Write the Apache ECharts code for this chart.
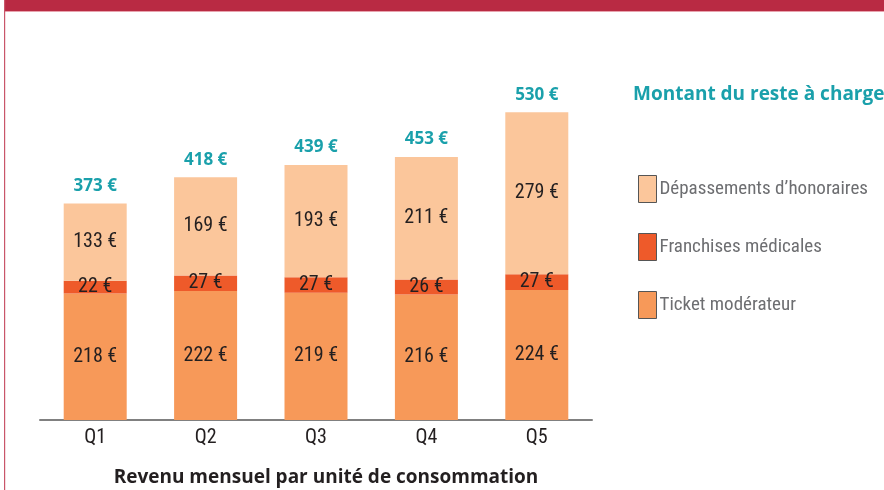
<!DOCTYPE html>
<html>
<head>
<meta charset="utf-8">
<script src="https://cdn.jsdelivr.net/npm/echarts@6/dist/echarts.min.js"></script>
<style>
html,body{margin:0;padding:0;background:#fff;}
#chart{width:884px;height:490px;}
</style>
</head>
<body>
<div id="chart"></div>
<script>
var categories = ['Q1', 'Q2', 'Q3', 'Q4', 'Q5'];
var ticket = [218, 222, 219, 216, 224];
var franchises = [22, 27, 27, 26, 27];
var depassements = [133, 169, 193, 211, 279];
var totals = [373, 418, 439, 453, 530];

var narrow = "'Roboto Condensed', 'DejaVu Sans Condensed', sans-serif";
var chart = echarts.init(document.getElementById('chart'));

function euro(p) { return p.value + ' €'; }

var segLabel = {
	show: true,
	position: 'inside',
	formatter: euro,
	color: '#231F20',
	fontFamily: narrow,
	fontSize: 20
};

var option = {
	animation: false,
	grid: { left: 40, width: 552, top: 71.6, height: 348.4, outerBoundsMode: 'none' },
	graphic: [
		{ type: 'rect', shape: { x: 4, y: 0, width: 880, height: 11 }, style: { fill: '#B92A43' } },
		{ type: 'rect', shape: { x: 4, y: 11, width: 880, height: 1 }, style: { fill: '#E8A3AE' } },
		{ type: 'rect', shape: { x: 4, y: 0, width: 1.2, height: 490 }, style: { fill: '#C9566A' } },
		{
			type: 'text', left: 633, top: 85,
			style: { text: 'Montant du reste à charge', fill: '#1AA0AB', font: "bold 19px 'Open Sans', sans-serif" }
		}
	],
	legend: {
		data: ['Dépassements d\u2019honoraires', 'Franchises médicales', 'Ticket modérateur'],
		orient: 'vertical',
		left: 633,
		top: 170,
		itemWidth: 18,
		itemHeight: 27,
		itemGap: 30,
		icon: 'rect',
		textStyle: { color: '#6D6E71', fontFamily: narrow, fontSize: 19, padding: [0, 0, 0, -2] },
		itemStyle: { borderColor: '#555', borderWidth: 1 }
	},
	xAxis: {
		type: 'category',
		data: categories,
		axisLine: { lineStyle: { color: '#808080', width: 2 } },
		axisTick: { show: false },
		axisLabel: { color: '#231F20', fontFamily: narrow, fontSize: 20, margin: 8 },
		name: 'Revenu mensuel par unité de consommation',
		nameLocation: 'middle',
		nameGap: 48,
		nameTextStyle: { color: '#231F20', fontFamily: "'Open Sans', sans-serif", fontWeight: 'bold', fontSize: 19, padding: [0, 0, 0, 20] }
	},
	yAxis: {
		type: 'value',
		min: 0,
		max: 600,
		show: false
	},
	series: [{
		name: 'Ticket modérateur',
		type: 'bar',
		stack: 'rac',
		barWidth: 63,
		itemStyle: { color: '#F79959' },
		label: segLabel,
		data: ticket
	}, {
		name: 'Franchises médicales',
		type: 'bar',
		stack: 'rac',
		itemStyle: { color: '#EE5A2A' },
		label: segLabel,
		data: franchises
	}, {
		name: 'Dépassements d\u2019honoraires',
		type: 'bar',
		stack: 'rac',
		itemStyle: { color: '#FBC69B' },
		label: segLabel,
		data: depassements
	}, {
		// totaux au-dessus des barres
		name: 'total',
		type: 'bar',
		barWidth: 63,
		barGap: '-100%',
		silent: true,
		z: 1,
		itemStyle: { color: 'rgba(0,0,0,0)' },
		label: {
			show: true,
			position: 'top',
			distance: 9,
			formatter: euro,
			color: '#1AA0AB',
			fontFamily: "'Open Sans', sans-serif",
			fontWeight: 'bold',
			fontSize: 17
		},
		data: totals
	}]
};
chart.setOption(option);
</script>
</body>
</html>
